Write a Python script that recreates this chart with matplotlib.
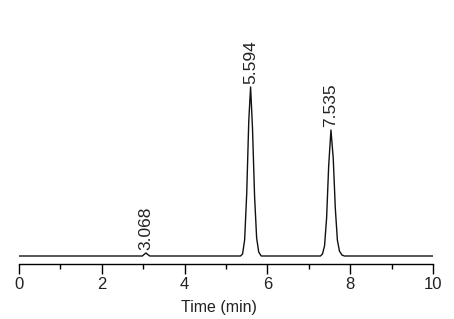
import numpy as np
import matplotlib.pyplot as plt

plt.rcParams['font.family'] = ['Liberation Sans', 'DejaVu Sans']

# chromatogram trace (time in min, signal in arbitrary units above baseline)
time = [0.0, 2.98, 3.02, 3.068, 3.11, 3.16,
        5.35, 5.40, 5.45, 5.50, 5.55, 5.594, 5.64, 5.69, 5.74, 5.79, 5.85,
        7.28, 7.33, 7.38, 7.43, 7.48, 7.535, 7.59, 7.64, 7.69, 7.74, 7.80, 7.86,
        10.0]
signal = [0, 0, 1.5, 3, 1.5, 0,
          0, 2, 16, 62, 135, 169, 128, 60, 18, 4, 0,
          0, 2, 10, 38, 90, 126, 98, 48, 16, 5, 1, 0,
          0]

peak_times = [3.068, 5.594, 7.535]
peak_heights = [3, 169, 126]
peak_labels = ['3.068', '5.594', '7.535']

fig = plt.figure(figsize=(4.54, 3.19), dpi=100)
ax = fig.add_axes([19/454, 55/319, 414/454, 244/319])

ax.plot(time, signal, color='#111111', lw=1.0)

for t, h, lab in zip(peak_times, peak_heights, peak_labels):
    ax.annotate(lab, (t, h), xytext=(0, 2.5), textcoords='offset points',
                rotation=90, ha='center', va='bottom', fontsize=12.5, color='#222222')

ax.set_xlim(0, 10)
ax.set_ylim(-8, 236)
ax.set_xticks(np.arange(0, 11, 2))
ax.set_xticks(np.arange(1, 10, 2), minor=True)
ax.tick_params(axis='x', which='major', length=7.2, width=1.0, pad=2.5,
               labelsize=12, labelcolor='#222222')
ax.tick_params(axis='x', which='minor', length=3.6, width=1.0)
ax.set_yticks([])
for s in ['top', 'right', 'left']:
    ax.spines[s].set_visible(False)
ax.spines['bottom'].set_linewidth(1.0)

ax.set_xlabel('Time (min)', fontsize=11.5, color='#222222')
ax.xaxis.set_label_coords((219 - 19) / 414, -0.1475)

fig.savefig('out.png', dpi=100)
